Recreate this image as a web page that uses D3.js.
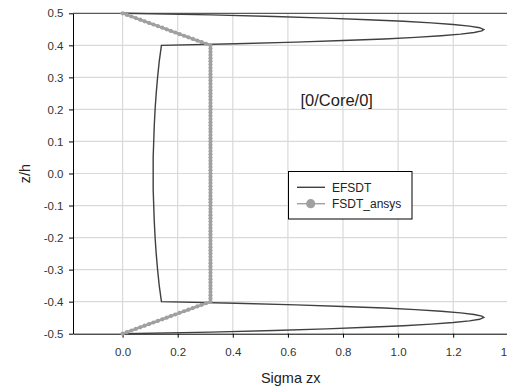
<!DOCTYPE html>
<html>
<head>
<meta charset="utf-8">
<script src="https://cdn.jsdelivr.net/npm/d3@7"></script>
<style>
body { margin: 0; background: #fff; }
svg { display: block; font-family: "Liberation Sans", Arial, sans-serif; }
</style>
</head>
<body>
<svg id="chart"></svg>
<script>
// tick values
var xTicks = [0, 0.2, 0.4, 0.6, 0.8, 1.0, 1.2, 1.4]
var yTicks = [-0.5, -0.4, -0.3, -0.2, -0.1, 0, 0.1, 0.2, 0.3, 0.4, 0.5]
var seriesNames = ["EFSDT", "FSDT_ansys"]

// EFSDT profile, top face -> core -> bottom face
var efsdtZ = [0.5, 0.495, 0.49, 0.485, 0.48, 0.475, 0.47, 0.465, 0.46, 0.455, 0.449, 0.445, 0.44, 0.435, 0.43, 0.425, 0.42, 0.415, 0.41, 0.405, 0.4,
              0.35, 0.3, 0.25, 0.2, 0.15, 0.1, 0.05, 0, -0.05, -0.1, -0.15, -0.2, -0.25, -0.3, -0.35,
              -0.4, -0.405, -0.41, -0.415, -0.42, -0.425, -0.43, -0.435, -0.44, -0.445, -0.449, -0.455, -0.46, -0.465, -0.47, -0.475, -0.48, -0.485, -0.49, -0.495, -0.5]
var efsdtSigma = [0, 0.32, 0.55, 0.74, 0.89, 1.02, 1.12, 1.2, 1.259, 1.296, 1.311, 1.304, 1.276, 1.227, 1.156, 1.063, 0.95, 0.8, 0.63, 0.41, 0.141,
                  0.133, 0.127, 0.122, 0.118, 0.115, 0.113, 0.111, 0.111, 0.111, 0.113, 0.115, 0.118, 0.122, 0.127, 0.133,
                  0.141, 0.41, 0.63, 0.8, 0.95, 1.063, 1.156, 1.227, 1.276, 1.304, 1.311, 1.296, 1.259, 1.2, 1.12, 1.02, 0.89, 0.74, 0.55, 0.32, 0]

// FSDT_ansys nodal values
var fsdtZ = [0.5, 0.495, 0.49, 0.485, 0.48, 0.475, 0.47, 0.465, 0.46, 0.455, 0.45, 0.445, 0.44, 0.435, 0.43, 0.425, 0.42, 0.415, 0.41, 0.405, 0.4,
             0.39, 0.38, 0.37, 0.36, 0.35, 0.34, 0.33, 0.32, 0.31, 0.3, 0.29, 0.28, 0.27, 0.26, 0.25, 0.24, 0.23, 0.22, 0.21, 0.2,
             0.19, 0.18, 0.17, 0.16, 0.15, 0.14, 0.13, 0.12, 0.11, 0.1, 0.09, 0.08, 0.07, 0.06, 0.05, 0.04, 0.03, 0.02, 0.01, 0,
             -0.01, -0.02, -0.03, -0.04, -0.05, -0.06, -0.07, -0.08, -0.09, -0.1, -0.11, -0.12, -0.13, -0.14, -0.15, -0.16, -0.17, -0.18, -0.19, -0.2,
             -0.21, -0.22, -0.23, -0.24, -0.25, -0.26, -0.27, -0.28, -0.29, -0.3, -0.31, -0.32, -0.33, -0.34, -0.35, -0.36, -0.37, -0.38, -0.39,
             -0.4, -0.405, -0.41, -0.415, -0.42, -0.425, -0.43, -0.435, -0.44, -0.445, -0.45, -0.455, -0.46, -0.465, -0.47, -0.475, -0.48, -0.485, -0.49, -0.495, -0.5]
var fsdtSigma = [0, 0.016, 0.032, 0.048, 0.064, 0.08, 0.096, 0.112, 0.128, 0.144, 0.16, 0.175, 0.191, 0.207, 0.223, 0.239, 0.255, 0.271, 0.287, 0.303, 0.319,
                 0.319, 0.319, 0.319, 0.319, 0.319, 0.319, 0.319, 0.319, 0.319, 0.319, 0.319, 0.319, 0.319, 0.319, 0.319, 0.319, 0.319, 0.319, 0.319, 0.319,
                 0.319, 0.319, 0.319, 0.319, 0.319, 0.319, 0.319, 0.319, 0.319, 0.319, 0.319, 0.319, 0.319, 0.319, 0.319, 0.319, 0.319, 0.319, 0.319, 0.319,
                 0.319, 0.319, 0.319, 0.319, 0.319, 0.319, 0.319, 0.319, 0.319, 0.319, 0.319, 0.319, 0.319, 0.319, 0.319, 0.319, 0.319, 0.319, 0.319, 0.319,
                 0.319, 0.319, 0.319, 0.319, 0.319, 0.319, 0.319, 0.319, 0.319, 0.319, 0.319, 0.319, 0.319, 0.319, 0.319, 0.319, 0.319, 0.319, 0.319,
                 0.319, 0.303, 0.287, 0.271, 0.255, 0.239, 0.223, 0.207, 0.191, 0.175, 0.16, 0.144, 0.128, 0.112, 0.096, 0.08, 0.064, 0.048, 0.032, 0.016, 0]

var dimensions = {
    width: 507,
    height: 390,
    margin: {
        top: 13.3,
        bottom: 56.3,
        left: 73,
        right: -1.3}
    }

var svg = d3.select("#chart")
        .attr("width", dimensions.width)
        .attr("height", dimensions.height)

var xScale = d3.scaleLinear()
                .domain([-0.18, 1.4])
                .range([dimensions.margin.left, dimensions.width - dimensions.margin.right])

var yScale = d3.scaleLinear()
                .domain([-0.5, 0.5])
                .range([dimensions.height - dimensions.margin.bottom, dimensions.margin.top])

// plain hyphen minus like the original
var fmt = d3.formatLocale({decimal: ".", thousands: ",", grouping: [3], currency: ["", ""], minus: "-"}).format(".1f")

// grid
var grid = svg.append("g")
grid.selectAll(".vgrid")
    .data(xTicks)
    .enter()
    .append("line")
    .attr("x1", d => xScale(d))
    .attr("x2", d => xScale(d))
    .attr("y1", yScale(0.5))
    .attr("y2", yScale(-0.5))
    .attr("stroke", "#d9d9d9")
    .attr("stroke-width", 1.2)
grid.selectAll(".hgrid")
    .data(yTicks.filter(d => Math.abs(d) < 0.45))
    .enter()
    .append("line")
    .attr("x1", xScale(-0.18))
    .attr("x2", xScale(1.4))
    .attr("y1", d => yScale(d))
    .attr("y2", d => yScale(d))
    .attr("stroke", "#d9d9d9")
    .attr("stroke-width", 1.2)

// top border
svg.append("line")
    .attr("x1", xScale(-0.18))
    .attr("x2", xScale(1.4))
    .attr("y1", yScale(0.5))
    .attr("y2", yScale(0.5))
    .attr("stroke", "#595959")
    .attr("stroke-width", 1.2)

// axes
var xAxis = svg.append("g")
    .attr("transform", `translate(0,${yScale(-0.5)})`)
    .call(d3.axisBottom(xScale).tickValues(xTicks).tickFormat(fmt).tickSize(4).tickSizeOuter(0).tickPadding(10))
xAxis.selectAll("text").style("font-size", "11.5px").attr("fill", "#333").style("font-family", "Liberation Sans, Arial, sans-serif")

var yAxis = svg.append("g")
    .attr("transform", `translate(${xScale(-0.18)},0)`)
    .call(d3.axisLeft(yScale).tickValues(yTicks).tickFormat(fmt).tickSize(4).tickSizeOuter(0).tickPadding(5.5))
yAxis.selectAll("text").style("font-size", "11.5px").attr("fill", "#333").style("font-family", "Liberation Sans, Arial, sans-serif")

var efsdt = efsdtZ.map((z, i) => ({z: z, s: efsdtSigma[i]}))
var fsdt = fsdtZ.map((z, i) => ({z: z, s: fsdtSigma[i]}))

var line = d3.line()
    .x(d => xScale(d.s))
    .y(d => yScale(d.z))

// EFSDT curve
svg.append("path")
    .datum(efsdt)
    .attr("d", line)
    .attr("fill", "none")
    .attr("stroke", "#404040")
    .attr("stroke-width", 1.4)

// FSDT_ansys line + markers
svg.append("path")
    .datum(fsdt)
    .attr("d", line)
    .attr("fill", "none")
    .attr("stroke", "#a0a0a0")
    .attr("stroke-width", 2.6)
svg.append("g")
    .selectAll("circle")
    .data(fsdt)
    .enter()
    .append("circle")
    .attr("cx", d => xScale(d.s))
    .attr("cy", d => yScale(d.z))
    .attr("r", 2.1)
    .attr("fill", "#a0a0a0")

// annotation
svg.append("text")
    .attr("x", 300.5)
    .attr("y", 105.5)
    .attr("font-size", "16.5px")
    .attr("fill", "#222")
    .text("[0/Core/0]")

// legend
var legend = svg.append("g")
legend.append("rect")
    .attr("x", 288.5)
    .attr("y", 171.5)
    .attr("width", 123.5)
    .attr("height", 47.5)
    .attr("fill", "#fff")
    .attr("stroke", "#000")
    .attr("stroke-width", 1)
legend.append("line")
    .attr("x1", 297).attr("x2", 325)
    .attr("y1", 187.3).attr("y2", 187.3)
    .attr("stroke", "#404040")
    .attr("stroke-width", 1.4)
legend.append("line")
    .attr("x1", 297).attr("x2", 325)
    .attr("y1", 203.7).attr("y2", 203.7)
    .attr("stroke", "#a0a0a0")
    .attr("stroke-width", 1.4)
legend.append("circle")
    .attr("cx", 310.7).attr("cy", 203.7)
    .attr("r", 4.6)
    .attr("fill", "#a0a0a0")
legend.selectAll("text")
    .data(seriesNames)
    .enter()
    .append("text")
    .attr("x", 332)
    .attr("y", (d, i) => 191.6 + i * 16.2)
    .attr("font-size", "12px")
    .attr("fill", "#222")
    .text(d => d)

// axis titles
svg.append("text")
    .attr("x", 290.7)
    .attr("y", 383.3)
    .attr("text-anchor", "middle")
    .attr("font-size", "14.5px")
    .attr("fill", "#222")
    .text("Sigma zx")

svg.append("text")
    .attr("transform", "translate(30,173.5) rotate(-90)")
    .attr("text-anchor", "middle")
    .attr("font-size", "14.5px")
    .attr("fill", "#222")
    .text("z/h")
</script>
</body>
</html>
